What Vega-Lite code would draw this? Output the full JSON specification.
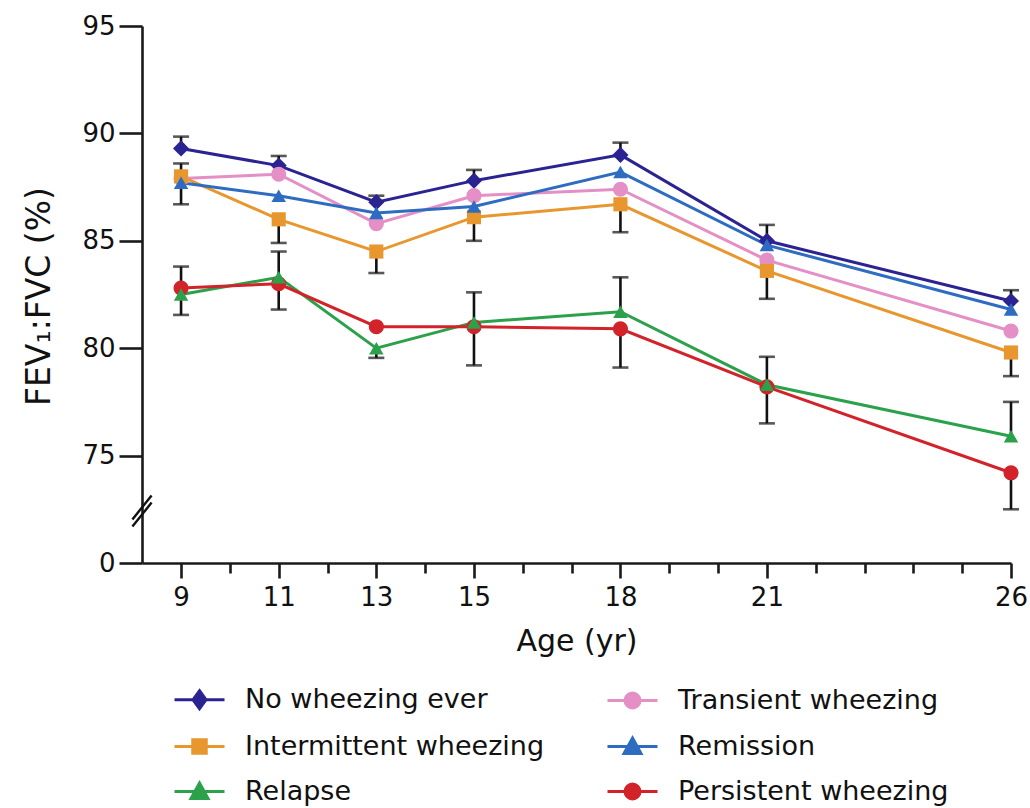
{
  "$schema": "https://vega.github.io/schema/vega-lite/v6.json",
  "width": 869,
  "height": 537,
  "autosize": "none",
  "padding": {"left": 142, "top": 26, "right": 19, "bottom": 245},
  "background": "white",
  "config": {
    "view": {"stroke": null},
    "font": "DejaVu Sans",
    "axis": {
      "grid": false,
      "domainColor": "#1a1a1a",
      "domainWidth": 2.6,
      "tickColor": "#1a1a1a",
      "tickWidth": 2.6,
      "labelColor": "#111111",
      "labelFont": "DejaVu Sans",
      "labelFontSize": 26,
      "titleFont": "DejaVu Sans",
      "titleColor": "#111111",
      "titleFontWeight": "normal",
      "titleFontSize": 30
    }
  },
  "datasets": {
    "series": [
      {"age": 9, "group": "No wheezing ever", "v": 89.3},
      {"age": 11, "group": "No wheezing ever", "v": 88.5},
      {"age": 13, "group": "No wheezing ever", "v": 86.8},
      {"age": 15, "group": "No wheezing ever", "v": 87.8},
      {"age": 18, "group": "No wheezing ever", "v": 89.0},
      {"age": 21, "group": "No wheezing ever", "v": 85.0},
      {"age": 26, "group": "No wheezing ever", "v": 82.2},
      {"age": 9, "group": "Transient wheezing", "v": 87.9},
      {"age": 11, "group": "Transient wheezing", "v": 88.1},
      {"age": 13, "group": "Transient wheezing", "v": 85.8},
      {"age": 15, "group": "Transient wheezing", "v": 87.1},
      {"age": 18, "group": "Transient wheezing", "v": 87.4},
      {"age": 21, "group": "Transient wheezing", "v": 84.1},
      {"age": 26, "group": "Transient wheezing", "v": 80.8},
      {"age": 9, "group": "Intermittent wheezing", "v": 88.0},
      {"age": 11, "group": "Intermittent wheezing", "v": 86.0},
      {"age": 13, "group": "Intermittent wheezing", "v": 84.5},
      {"age": 15, "group": "Intermittent wheezing", "v": 86.1},
      {"age": 18, "group": "Intermittent wheezing", "v": 86.7},
      {"age": 21, "group": "Intermittent wheezing", "v": 83.6},
      {"age": 26, "group": "Intermittent wheezing", "v": 79.8},
      {"age": 9, "group": "Remission", "v": 87.7},
      {"age": 11, "group": "Remission", "v": 87.1},
      {"age": 13, "group": "Remission", "v": 86.3},
      {"age": 15, "group": "Remission", "v": 86.6},
      {"age": 18, "group": "Remission", "v": 88.2},
      {"age": 21, "group": "Remission", "v": 84.8},
      {"age": 26, "group": "Remission", "v": 81.8},
      {"age": 9, "group": "Relapse", "v": 82.5},
      {"age": 11, "group": "Relapse", "v": 83.3},
      {"age": 13, "group": "Relapse", "v": 80.0},
      {"age": 15, "group": "Relapse", "v": 81.2},
      {"age": 18, "group": "Relapse", "v": 81.7},
      {"age": 21, "group": "Relapse", "v": 78.3},
      {"age": 26, "group": "Relapse", "v": 75.9},
      {"age": 9, "group": "Persistent wheezing", "v": 82.8},
      {"age": 11, "group": "Persistent wheezing", "v": 83.0},
      {"age": 13, "group": "Persistent wheezing", "v": 81.0},
      {"age": 15, "group": "Persistent wheezing", "v": 81.0},
      {"age": 18, "group": "Persistent wheezing", "v": 80.9},
      {"age": 21, "group": "Persistent wheezing", "v": 78.2},
      {"age": 26, "group": "Persistent wheezing", "v": 74.2}
    ],
    "err": [
      {"age": 9, "from": 89.3, "to": 89.85},
      {"age": 9, "from": 88.0, "to": 88.6},
      {"age": 9, "from": 88.0, "to": 86.7},
      {"age": 9, "from": 82.8, "to": 83.8},
      {"age": 9, "from": 82.8, "to": 81.55},
      {"age": 11, "from": 88.5, "to": 88.95},
      {"age": 11, "from": 86.0, "to": 84.9},
      {"age": 11, "from": 83.0, "to": 84.5},
      {"age": 11, "from": 83.0, "to": 81.8},
      {"age": 13, "from": 86.8, "to": 87.1},
      {"age": 13, "from": 84.5, "to": 83.5},
      {"age": 13, "from": 80.0, "to": 79.55},
      {"age": 15, "from": 87.8, "to": 88.3},
      {"age": 15, "from": 86.1, "to": 85.0},
      {"age": 15, "from": 81.0, "to": 82.6},
      {"age": 15, "from": 81.0, "to": 79.2},
      {"age": 18, "from": 89.0, "to": 89.57},
      {"age": 18, "from": 86.7, "to": 85.4},
      {"age": 18, "from": 81.7, "to": 83.3},
      {"age": 18, "from": 80.9, "to": 79.1},
      {"age": 21, "from": 85.0, "to": 85.74},
      {"age": 21, "from": 83.6, "to": 82.3},
      {"age": 21, "from": 78.2, "to": 79.6},
      {"age": 21, "from": 78.2, "to": 76.5},
      {"age": 26, "from": 82.2, "to": 82.7},
      {"age": 26, "from": 79.8, "to": 78.7},
      {"age": 26, "from": 75.9, "to": 77.5},
      {"age": 26, "from": 74.2, "to": 72.5}
    ],
    "brk": [{"age": 8.2, "v": 72.42}]
  },
  "layer": [
    {
      "data": {"name": "err"},
      "mark": {"type": "rule", "color": "#111111", "strokeWidth": 2.6},
      "encoding": {
        "x": {
          "field": "age", "type": "quantitative", "title": "Age (yr)",
          "scale": {"domain": [8.2, 26], "nice": false, "zero": false},
          "axis": {
            "values": [9, 10, 11, 12, 13, 14, 15, 16, 17, 18, 19, 20, 21, 22, 23, 24, 25, 26],
            "labelExpr": "indexof([9,11,13,15,18,21,26], datum.value) >= 0 ? datum.label : ''",
            "tickSize": {"condition": {"test": "indexof([9,11,13,15,18,21,26], datum.value) >= 0", "value": 15}, "value": 10},
            "labelPadding": 6,
            "labelFlush": false,
            "labelOverlap": false,
            "titleY": 87,
            "titleBaseline": "alphabetic"
          }
        },
        "y": {
          "field": "from", "type": "quantitative", "title": "FEV₁:FVC (%)",
          "scale": {"domain": [70, 95], "nice": false, "zero": false},
          "axis": {
            "values": [70, 75, 80, 85, 90, 95],
            "labelExpr": "datum.value == 70 ? '0' : datum.label",
            "tickSize": 23,
            "labelPadding": 4,
            "titleX": -93,
            "titleY": 270,
            "titleAngle": -90,
            "titleFontSize": 33,
            "titleBaseline": "alphabetic"
          }
        },
        "y2": {"field": "to"}
      }
    },
    {
      "data": {"name": "err"},
      "mark": {"type": "tick", "orient": "horizontal", "color": "#111111", "thickness": 2.6, "size": 16},
      "encoding": {
        "x": {"field": "age", "type": "quantitative", "title": "Age (yr)"},
        "y": {"field": "to", "type": "quantitative", "title": "FEV₁:FVC (%)"}
      }
    },
    {
      "data": {"name": "series"},
      "mark": {"type": "line", "strokeWidth": 3},
      "encoding": {
        "x": {"field": "age", "type": "quantitative", "title": "Age (yr)"},
        "y": {"field": "v", "type": "quantitative", "title": "FEV₁:FVC (%)"},
        "color": {
          "field": "group", "type": "nominal",
          "scale": {
            "domain": ["No wheezing ever", "Transient wheezing", "Intermittent wheezing", "Remission", "Relapse", "Persistent wheezing"],
            "range": ["#2b2391", "#e48fc6", "#e8972f", "#2d6cc0", "#2ba14b", "#d2232a"]
          },
          "legend": {
            "orient": "none",
            "legendX": 31,
            "legendY": 647,
            "columns": 2,
            "direction": "horizontal",
            "title": null,
            "labelFont": "DejaVu Sans",
            "labelFontSize": 27,
            "labelColor": "#111111",
            "labelLimit": 600,
            "labelOffset": 19,
            "columnPadding": 56,
            "rowPadding": 5,
            "symbolSize": 2500,
            "symbolStrokeWidth": 3,
            "symbolOpacity": 1,
            "encode": {
              "symbols": {
                "update": {
                  "shape": {"signal": "datum.value === 'No wheezing ever' ? 'M-1,0H1M0,-0.36L0.26,0L0,0.36L-0.26,0Z' : datum.value === 'Intermittent wheezing' ? 'M-1,0H1M-0.27,-0.27H0.27V0.27H-0.27Z' : (datum.value === 'Remission' || datum.value === 'Relapse') ? 'M-1,0H1M0,-0.34L0.34,0.28H-0.34Z' : 'M-1,0H1M0.3,0A0.3,0.3,0,1,1,-0.3,0A0.3,0.3,0,1,1,0.3,0Z'"},
                  "fill": {"scale": "color", "field": "value"},
                  "stroke": {"scale": "color", "field": "value"},
                  "opacity": {"value": 1},
                  "fillOpacity": {"value": 1},
                  "strokeOpacity": {"value": 1},
                  "strokeWidth": {"value": 3}
                }
              }
            }
          }
        }
      }
    },
    {
      "data": {"name": "series"},
      "transform": [{"filter": "datum.group === 'No wheezing ever'"}],
      "mark": {"type": "point", "shape": "diamond", "filled": true, "opacity": 1, "size": 260},
      "encoding": {
        "x": {"field": "age", "type": "quantitative", "title": "Age (yr)"},
        "y": {"field": "v", "type": "quantitative", "title": "FEV₁:FVC (%)"},
        "color": {"field": "group", "type": "nominal"}
      }
    },
    {
      "data": {"name": "series"},
      "transform": [{"filter": "datum.group === 'Transient wheezing' || datum.group === 'Persistent wheezing'"}],
      "mark": {"type": "point", "shape": "circle", "filled": true, "opacity": 1, "size": 230},
      "encoding": {
        "x": {"field": "age", "type": "quantitative", "title": "Age (yr)"},
        "y": {"field": "v", "type": "quantitative", "title": "FEV₁:FVC (%)"},
        "color": {"field": "group", "type": "nominal"}
      }
    },
    {
      "data": {"name": "series"},
      "transform": [{"filter": "datum.group === 'Intermittent wheezing'"}],
      "mark": {"type": "point", "shape": "square", "filled": true, "opacity": 1, "size": 200},
      "encoding": {
        "x": {"field": "age", "type": "quantitative", "title": "Age (yr)"},
        "y": {"field": "v", "type": "quantitative", "title": "FEV₁:FVC (%)"},
        "color": {"field": "group", "type": "nominal"}
      }
    },
    {
      "data": {"name": "series"},
      "transform": [{"filter": "datum.group === 'Remission' || datum.group === 'Relapse'"}],
      "mark": {"type": "point", "shape": "triangle-up", "filled": true, "opacity": 1, "size": 210},
      "encoding": {
        "x": {"field": "age", "type": "quantitative", "title": "Age (yr)"},
        "y": {"field": "v", "type": "quantitative", "title": "FEV₁:FVC (%)"},
        "color": {"field": "group", "type": "nominal"}
      }
    },
    {
      "data": {"name": "brk"},
      "mark": {"type": "point", "shape": "M-0.8,0.7L0.8,-1.3M-0.8,1.3L0.8,-0.7", "filled": false, "stroke": "#111111", "strokeWidth": 2.4, "size": 576, "clip": false, "opacity": 1},
      "encoding": {
        "x": {"field": "age", "type": "quantitative", "title": "Age (yr)"},
        "y": {"field": "v", "type": "quantitative", "title": "FEV₁:FVC (%)"}
      }
    }
  ]
}
